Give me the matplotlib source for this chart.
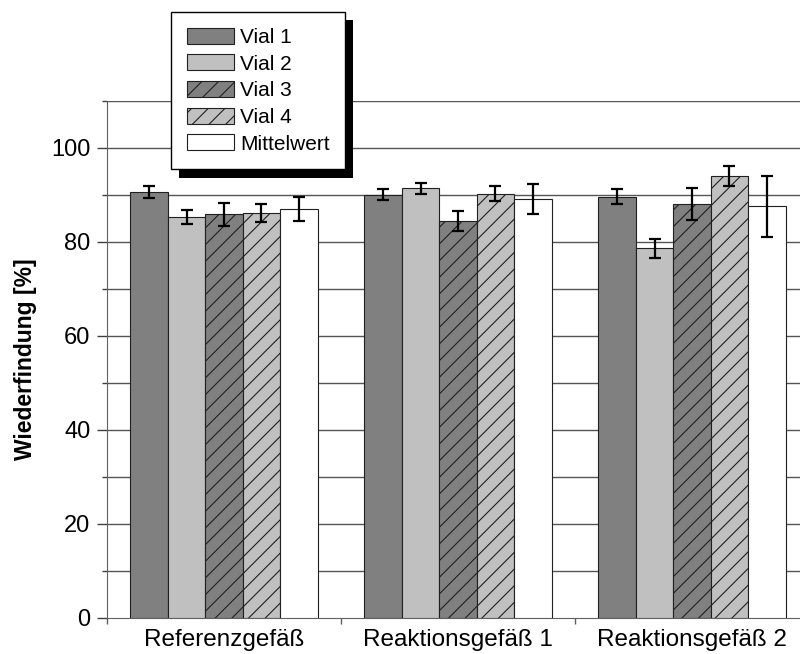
import matplotlib
matplotlib.use("Agg")
import matplotlib.pyplot as plt
import numpy as np
from matplotlib.patches import Patch
import matplotlib.patheffects as pe

plt.rcParams['font.family'] = ['Liberation Sans', 'DejaVu Sans']
plt.rcParams['hatch.linewidth'] = 0.8

categories = ["Referenzgefäß", "Reaktionsgefäß 1", "Reaktionsgefäß 2"]
series = ["Vial 1", "Vial 2", "Vial 3", "Vial 4", "Mittelwert"]
values = {
    "Vial 1": [90.7, 90.1, 89.6],
    "Vial 2": [85.4, 91.4, 78.7],
    "Vial 3": [85.9, 84.4, 88.0],
    "Vial 4": [86.1, 90.3, 94.1],
    "Mittelwert": [87.0, 89.1, 87.6],
}
errors = {
    "Vial 1": [1.3, 1.25, 1.6],
    "Vial 2": [1.5, 1.2, 2.0],
    "Vial 3": [2.5, 2.1, 3.4],
    "Vial 4": [1.9, 1.65, 2.1],
    "Mittelwert": [2.5, 3.2, 6.5],
}
colors = ["#808080", "#c0c0c0", "#808080", "#c0c0c0", "#ffffff"]
hatches = [None, None, "//", "//", None]
y_ticks = [0, 20, 40, 60, 80, 100]

W, H = 800, 654
fig = plt.figure(figsize=(8, 6.54), dpi=100)
ax = fig.add_axes([107 / W, 1 - 618 / H, 702 / W, 517 / H])

x = np.arange(len(categories))
bw = 0.16
for i, s in enumerate(series):
    pos = x - 0.4 + bw * (i + 0.5)
    ax.bar(pos, values[s], width=bw, color=colors[i], edgecolor="#202020",
           linewidth=0.8, hatch=hatches[i], zorder=3)
    ax.errorbar(pos, values[s], yerr=errors[s], fmt="none", ecolor="black",
                elinewidth=1.6, capsize=4.5, capthick=1.6, zorder=4)

ax.set_xlim(-0.5, 2.5)
ax.set_ylim(0, 110)
ax.set_yticks(y_ticks)
ax.set_yticks(np.arange(10, 111, 20), minor=True)
ax.set_xticks(x)
ax.set_xticklabels(categories, fontsize=17.5)
ax.set_xticks([-0.5, 0.5, 1.5, 2.5], minor=True)
ax.tick_params(axis="x", which="major", length=0, pad=8)
ax.tick_params(axis="x", which="minor", length=4, width=1, color="#606060")
ax.tick_params(axis="y", which="major", length=7, width=1, color="#404040", labelsize=17, pad=5)
ax.tick_params(axis="y", which="minor", length=3.6, width=1, color="#404040")
for yv in np.arange(10, 111, 10):
    ax.axhline(yv, color="#555555", linewidth=1.0, zorder=1)

ax.spines["top"].set_visible(False)
ax.spines["right"].set_visible(False)
ax.spines["left"].set_color("#606060")
ax.spines["bottom"].set_color("#606060")
ax.set_ylabel("Wiederfindung [%]", fontsize=16.5, fontweight="bold", labelpad=10)

handles = [Patch(facecolor=colors[i], edgecolor="#202020", hatch=hatches[i], linewidth=0.8)
           for i in range(len(series))]
leg = fig.legend(handles, series, loc="upper left", bbox_to_anchor=(171 / W, 1 - 12 / H),
                 bbox_transform=fig.transFigure, fontsize=15, frameon=True, fancybox=False,
                 handlelength=2.25, handleheight=0.8, handletextpad=0.3, labelspacing=0.36,
                 borderpad=0.75, borderaxespad=0)
frame = leg.get_frame()
frame.set_edgecolor("black")
frame.set_linewidth(1.0)
frame.set_facecolor("white")
frame.set_alpha(1)
frame.set_path_effects([pe.withSimplePatchShadow(offset=(6, -6), shadow_rgbFace="black", alpha=1.0)])

fig.savefig("out.png", dpi=100)
